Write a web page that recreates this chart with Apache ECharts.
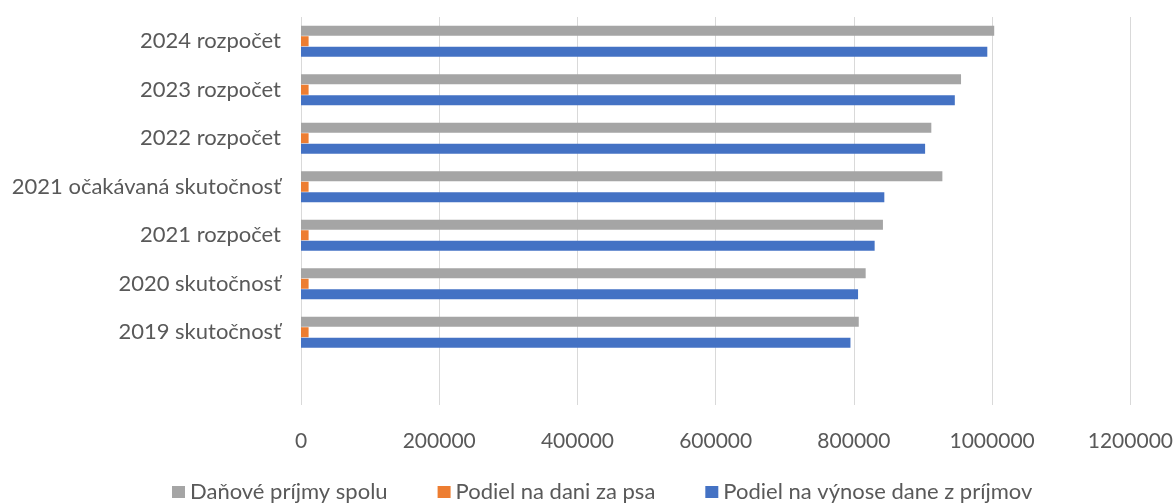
<!DOCTYPE html>
<html>
<head>
<meta charset="utf-8">
<script src="https://cdn.jsdelivr.net/npm/echarts@6/dist/echarts.min.js"></script>
<style>
html,body{margin:0;padding:0;background:#fff;}
#chart{width:1176px;height:504px;}
</style>
</head>
<body>
<div id="chart"></div>
<script>
const categories = ['', '2019 skutočnosť', '2020 skutočnosť', '2021 rozpočet', '2021 očakávaná skutočnosť', '2022 rozpočet', '2023 rozpočet', '2024 rozpočet'];
const danovePrijmySpolu = [null, 807000, 817000, 842000, 928000, 912000, 955000, 1003000];
const podielDanZaPsa = [null, 11000, 11000, 11000, 11000, 11000, 11000, 11000];
const podielVynosDanePrijmov = [null, 795000, 806000, 830000, 844000, 903000, 946000, 993000];
const seriesNames = ['Daňové príjmy spolu', 'Podiel na dani za psa', 'Podiel na výnose dane z príjmov'];
const xTicks = { min: 0, max: 1200000, interval: 200000 };

const FONT = 'Lato';
const TXT = '#595959';
const chart = echarts.init(document.getElementById('chart'), null, { renderer: 'canvas' });
chart.setOption({
  animation: false,
  backgroundColor: '#fff',
  grid: { left: 301, right: 44, top: 17, bottom: 99, containLabel: false },
  xAxis: {
    type: 'value', min: xTicks.min, max: xTicks.max, interval: xTicks.interval,
    axisLine: { show: false }, axisTick: { show: false },
    splitLine: { show: true, lineStyle: { color: '#D9D9D9', width: 1 } },
    axisLabel: { color: TXT, fontFamily: FONT, fontSize: 21, margin: 26, formatter: v => String(v) }
  },
  yAxis: {
    type: 'category', data: categories,
    axisLine: { show: false }, axisTick: { show: false },
    axisLabel: { color: TXT, fontFamily: FONT, fontSize: 22, margin: 20 }
  },
  legend: {
    data: seriesNames,
    top: 476, left: 167,
    icon: 'rect', itemWidth: 13, itemHeight: 12, itemGap: 50,
    textStyle: { color: TXT, fontFamily: FONT, fontSize: 22 }
  },
  series: [
    { name: seriesNames[0], type: 'bar', data: danovePrijmySpolu, barWidth: 10, barGap: '5%', itemStyle: { color: '#A5A5A5' } },
    { name: seriesNames[1], type: 'bar', data: podielDanZaPsa, barWidth: 10, barGap: '5%', itemStyle: { color: '#ED7D31' } },
    { name: seriesNames[2], type: 'bar', data: podielVynosDanePrijmov, barWidth: 10, barGap: '5%', itemStyle: { color: '#4472C4' } }
  ]
});
</script>
</body>
</html>
